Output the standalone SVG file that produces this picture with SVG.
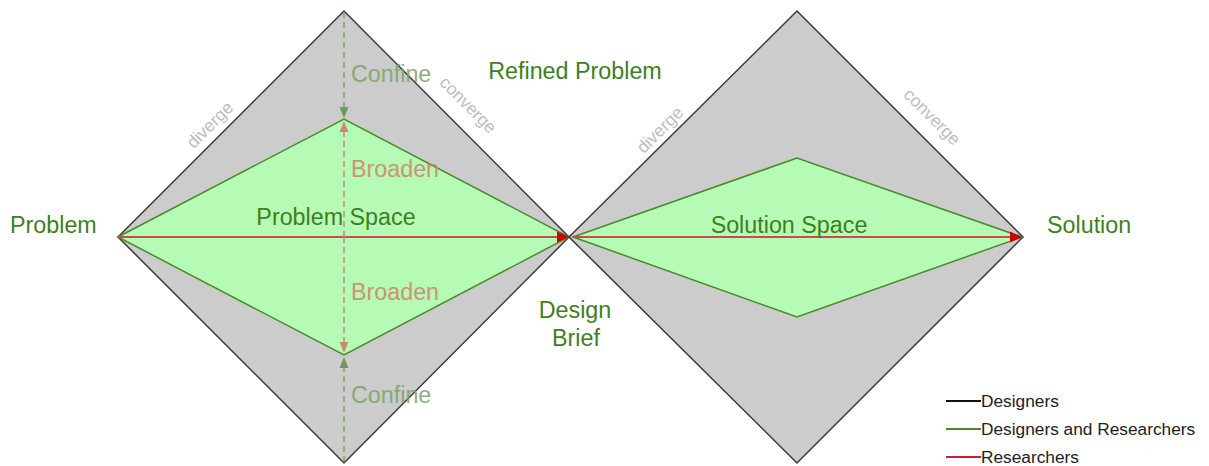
<svg xmlns="http://www.w3.org/2000/svg" width="1209" height="466" viewBox="0 0 1209 466">
<style>
text{font-family:"Liberation Sans",Arial,sans-serif}
.outer{fill:#cccccc;stroke:#3a3a3a;stroke-width:1.5}
.inner{fill:#b5fbb5;stroke:#4a8a2a;stroke-width:1.5}
.lbl{fill:#3f7f1f;font-size:23.3px}
.dv{fill:#bdbdbd;font-size:17.5px}
.conf{fill:#7aa36a;font-size:23.3px;opacity:0.85}
.broad{fill:#d08870;font-size:23.3px;opacity:0.9}
.dg{stroke:#7aa36a;stroke-width:1.5;stroke-dasharray:6 4;fill:none}
.dr{stroke:#d08870;stroke-width:1.5;stroke-dasharray:6 4;fill:none}
.red{stroke:#c0504d;stroke-width:2;fill:none}
.leg{font-size:17.3px;fill:#222}
</style>
<rect width="1209" height="466" fill="#ffffff"/>
<g id="left-diamond">
<polygon class="outer" points="118,237 344,11 569,237 344,463"/>
<polygon class="inner" points="118,237 344,119 569,237 344,355"/>
</g>
<g id="right-diamond">
<polygon class="outer" points="569,237 797,11 1023,237 797,463"/>
<polygon class="inner" points="573,237 797,158 1022,237 797,317"/>
</g>
<g id="connectors">
<line class="red" x1="118" y1="237" x2="560" y2="237"/>
<polygon points="569,237 557,231.5 557,242.5" fill="#cc0000"/>
<line class="red" x1="573" y1="237" x2="1013" y2="237"/>
<polygon points="1022,237 1010,231.5 1010,242.5" fill="#cc0000"/>
<line class="dg" x1="344" y1="12" x2="344" y2="108"/>
<polygon points="344,118 339.5,107 348.5,107" fill="#6f9a5f"/>
<line class="dr" x1="344" y1="237" x2="344" y2="131"/>
<polygon points="344,121 339.5,132 348.5,132" fill="#d08870"/>
<line class="dr" x1="344" y1="237" x2="344" y2="343"/>
<polygon points="344,353 339.5,342 348.5,342" fill="#d08870"/>
<line class="dg" x1="344" y1="462" x2="344" y2="367"/>
<polygon points="344,357 339.5,368 348.5,368" fill="#6f9a5f"/>
</g>
<g id="labels">
<text class="lbl" x="10" y="233">Problem</text>
<text class="lbl" x="336" y="225" text-anchor="middle">Problem Space</text>
<text class="lbl" x="575" y="79" text-anchor="middle">Refined Problem</text>
<text class="lbl" x="575" y="318" text-anchor="middle">Design</text>
<text class="lbl" x="576" y="346" text-anchor="middle">Brief</text>
<text class="lbl" x="789" y="233" text-anchor="middle">Solution Space</text>
<text class="lbl" x="1047" y="233">Solution</text>
<text class="conf" x="351" y="82">Confine</text>
<text class="broad" x="351" y="177">Broaden</text>
<text class="broad" x="351" y="300">Broaden</text>
<text class="conf" x="351" y="403">Confine</text>
<text class="dv" transform="translate(214,129) rotate(-45)" text-anchor="middle">diverge</text>
<text class="dv" transform="translate(464,109) rotate(45)" text-anchor="middle">converge</text>
<text class="dv" transform="translate(664,134) rotate(-45)" text-anchor="middle">diverge</text>
<text class="dv" transform="translate(928,121) rotate(45)" text-anchor="middle">converge</text>
</g>
<g id="legend">
<line x1="946" y1="401" x2="981" y2="401" stroke="#111" stroke-width="2"/>
<text class="leg" x="981" y="407">Designers</text>
<line x1="946" y1="429" x2="981" y2="429" stroke="#4a8a2a" stroke-width="2"/>
<text class="leg" x="981" y="435">Designers and Researchers</text>
<line x1="946" y1="457" x2="981" y2="457" stroke="#c8203c" stroke-width="2"/>
<text class="leg" x="981" y="463">Researchers</text>
</g>
</svg>
